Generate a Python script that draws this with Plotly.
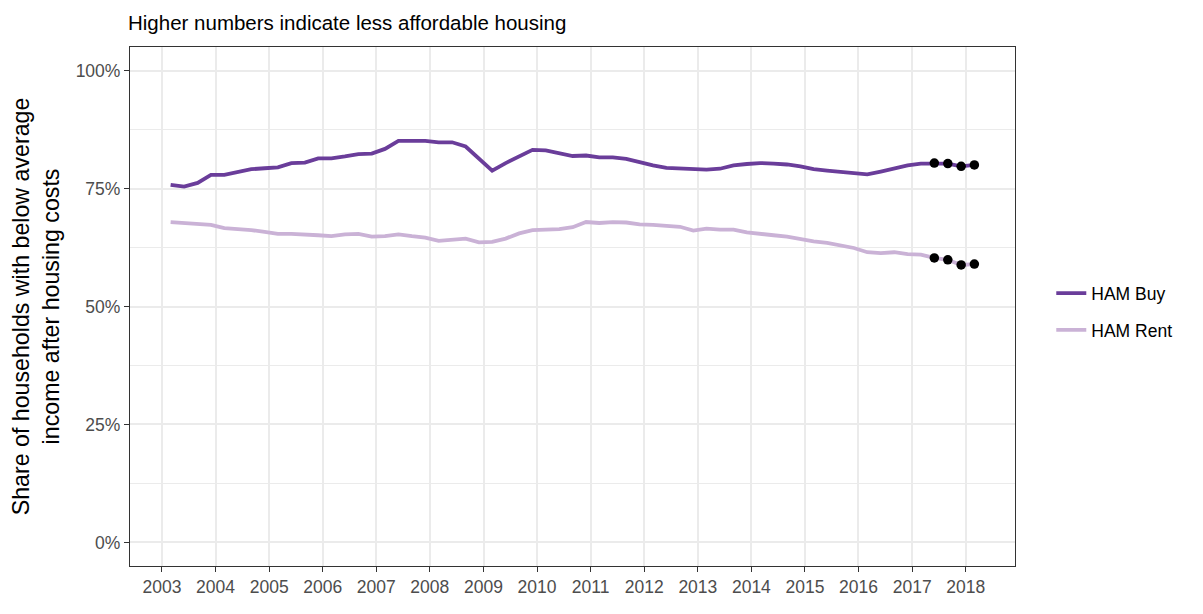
import plotly.graph_objects as go
import pandas as pd

# Quarterly observations, Mar 2003 - Mar 2018
dates = pd.date_range("2003-03-01", "2018-03-01", freq="3MS").strftime("%Y-%m-%d").tolist()

ham_buy = [75.8, 75.4, 76.2, 77.9, 77.9, 78.5, 79.1, 79.3, 79.5, 80.4,
           80.5, 81.4, 81.4, 81.8, 82.3, 82.4, 83.4, 85.1, 85.2, 85.1,
           84.8, 84.8, 83.9, 81.3, 78.8, 80.4, 81.8, 83.2, 83.1, 82.5,
           81.9, 82.0, 81.6, 81.6, 81.3, 80.6, 79.9, 79.4, 79.2, 79.0,
           79.0, 79.2, 79.9, 80.2, 80.4, 80.3, 80.1, 79.7, 79.1, 78.8,
           78.5, 78.2, 78.0, 78.6, 79.3, 79.9, 80.3, 80.4, 80.3, 79.7,
           80.0]
ham_rent = [67.9, 67.7, 67.6, 67.3, 66.6, 66.4, 66.2, 65.8, 65.4, 65.4,
            65.3, 65.1, 64.9, 65.3, 65.4, 64.8, 64.9, 65.3, 64.9, 64.6,
            63.9, 64.1, 64.4, 63.6, 63.7, 64.4, 65.5, 66.2, 66.2, 66.4,
            66.8, 67.9, 67.7, 67.9, 67.8, 67.4, 67.3, 67.1, 66.9, 66.1,
            66.5, 66.3, 66.3, 65.7, 65.5, 65.1, 64.8, 64.3, 63.8, 63.5,
            62.9, 62.4, 61.5, 61.3, 61.5, 61.1, 61.0, 60.3, 59.9, 58.8,
            59.0]
n_highlight = 4  # last four quarters marked with points

series_names = ["HAM Buy", "HAM Rent"]
series_colors = ["#6A3D9A", "#CAB2D6"]

y_ticks = [0, 0.25, 0.5, 0.75, 1.0]
title_text = "Higher numbers indicate less affordable housing"
y_title = "Share of households with below average<br>income after housing costs"

FONT = "Liberation Sans, Arial, sans-serif"
W, H = 1195, 606  # page body has an 8px margin

fig = go.Figure()
for i, (name, vals, col) in enumerate(zip(series_names, [ham_buy, ham_rent], series_colors)):
    fig.add_trace(go.Scatter(
        x=dates, y=[v / 100 for v in vals], mode="lines", name=name,
        line=dict(color=col, width=3.8), legendgroup=name,
    ))
for vals in [ham_buy, ham_rent]:
    fig.add_trace(go.Scatter(
        x=dates[-n_highlight:], y=[v / 100 for v in vals[-n_highlight:]],
        mode="markers", marker=dict(color="black", size=9.5),
        showlegend=False, hoverinfo="skip",
    ))

fig.update_layout(
    width=W, height=H,
    margin=dict(l=119, r=188, t=39, b=48),
    paper_bgcolor="white", plot_bgcolor="white",
    font=dict(family=FONT, color="#4D4D4D", size=17),
    title=dict(text=title_text, x=120 / W, xref="container", xanchor="left",
               y=1 - 14.5 / H, yref="container", yanchor="middle",
               font=dict(size=20.5, color="black", family=FONT)),
    legend=dict(x=1.041, y=0.49, xanchor="left", yanchor="middle",
                font=dict(size=17.5, color="black"), traceorder="grouped",
                tracegroupgap=11, bgcolor="rgba(0,0,0,0)"),
    showlegend=True,
)
fig.update_xaxes(
    type="date", range=["2002-05-28", "2018-12-03"],
    tick0="2003-01-01", dtick="M12", tickformat="%Y",
    showgrid=True, gridcolor="#EBEBEB", gridwidth=1.5,
    ticks="outside", ticklen=5, tickcolor="#333333", tickwidth=1.2,
    showline=True, mirror=True, linecolor="#333333", linewidth=1.2,
    tickfont=dict(size=17.5, color="#4D4D4D"), zeroline=False,
)
fig.update_yaxes(
    range=[-0.05, 1.05], tickvals=y_ticks, tickformat=".0%",
    showgrid=True, gridcolor="#EBEBEB", gridwidth=1.5,
    minor=dict(tick0=0.125, dtick=0.25, showgrid=True, gridcolor="#EBEBEB", gridwidth=0.8),
    ticks="outside", ticklen=5, tickcolor="#333333", tickwidth=1.2,
    showline=True, mirror=True, linecolor="#333333", linewidth=1.2,
    tickfont=dict(size=17.5, color="#4D4D4D"), zeroline=False,
    title=dict(text=y_title, font=dict(size=23.2, color="black"), standoff=9),
)

fig.write_html("out.html")
